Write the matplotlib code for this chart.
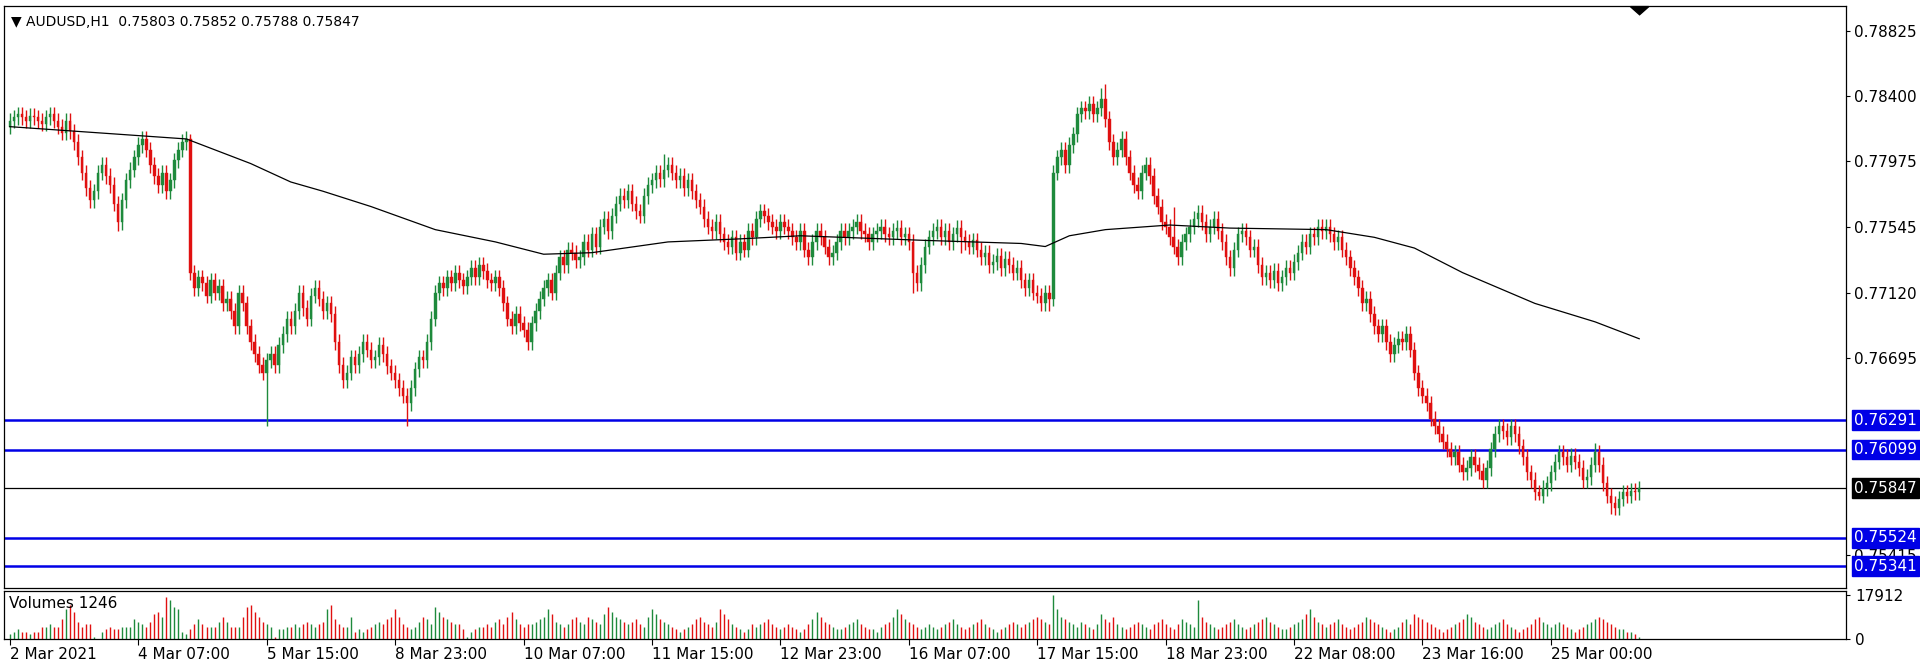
import matplotlib
matplotlib.use("Agg")
import matplotlib.pyplot as plt
from matplotlib.patches import Polygon

closes = [
0.7824,0.7826,0.7828,0.7826,0.7824,0.7827,0.7826,0.7824,0.7822,0.7826,0.7828,0.7824,0.7820,0.7816,0.7824,0.7817,
0.7810,0.7800,0.7790,0.7780,0.7772,0.7778,0.7790,0.7795,0.7788,0.7782,0.7770,0.7758,0.7772,0.7785,0.7792,0.7800,
0.7808,0.7812,0.7805,0.7795,0.7788,0.7782,0.7790,0.7778,0.7785,0.7798,0.7805,0.7810,0.7812,0.7725,0.7715,0.7722,
0.7718,0.7710,0.7720,0.7712,0.7716,0.7705,0.7708,0.7700,0.7690,0.7712,0.7705,0.7690,0.7680,0.7672,0.7665,0.7660,
0.7668,0.7672,0.7665,0.7678,0.7685,0.7695,0.7690,0.7700,0.7712,0.7702,0.7695,0.7710,0.7715,0.7708,0.7700,0.7705,
0.7698,0.7680,0.7665,0.7655,0.7660,0.7670,0.7665,0.7672,0.7680,0.7675,0.7668,0.7670,0.7678,0.7672,0.7664,0.7660,
0.7655,0.7650,0.7645,0.7640,0.7650,0.7662,0.7670,0.7668,0.7680,0.7695,0.7712,0.7718,0.7715,0.7722,0.7718,0.7725,
0.7720,0.7716,0.7722,0.7728,0.7722,0.7730,0.7726,0.7720,0.7718,0.7722,0.7715,0.7705,0.7695,0.7690,0.7698,0.7692,
0.7688,0.7680,0.7692,0.7700,0.7708,0.7715,0.7720,0.7712,0.7725,0.7735,0.7730,0.7740,0.7738,0.7733,0.7735,0.7745,
0.7740,0.7750,0.7742,0.7755,0.7760,0.7752,0.7762,0.7770,0.7775,0.7772,0.7778,0.7770,0.7765,0.7762,0.7775,0.7782,
0.7785,0.7790,0.7786,0.7792,0.7795,0.7790,0.7785,0.7788,0.7780,0.7785,0.7778,0.7772,0.7768,0.7760,0.7755,0.7752,
0.7758,0.7750,0.7745,0.7742,0.7748,0.7738,0.7745,0.7740,0.7752,0.7748,0.7760,0.7765,0.7762,0.7758,0.7755,0.7752,
0.7758,0.7755,0.7752,0.7748,0.7745,0.7752,0.7740,0.7735,0.7745,0.7752,0.7748,0.7742,0.7735,0.7738,0.7745,0.7752,
0.7748,0.7752,0.7755,0.7758,0.7752,0.7750,0.7745,0.7750,0.7752,0.7755,0.7750,0.7748,0.7752,0.7754,0.7748,0.7750,
0.7745,0.7725,0.7718,0.7730,0.7742,0.7748,0.7752,0.7755,0.7748,0.7752,0.7745,0.7750,0.7754,0.7748,0.7745,0.7742,
0.7746,0.7740,0.7735,0.7738,0.7730,0.7732,0.7736,0.7728,0.7734,0.7730,0.7725,0.7728,0.7720,0.7715,0.7720,0.7712,
0.7710,0.7705,0.7712,0.7708,0.7790,0.7800,0.7805,0.7795,0.7808,0.7815,0.7828,0.7832,0.7830,0.7835,0.7828,0.7832,
0.7838,0.7825,0.7810,0.7800,0.7805,0.7812,0.7800,0.7790,0.7782,0.7778,0.7790,0.7795,0.7788,0.7775,0.7768,0.7758,
0.7755,0.7748,0.7742,0.7735,0.7745,0.7750,0.7755,0.7760,0.7764,0.7758,0.7750,0.7755,0.7760,0.7752,0.7745,0.7735,
0.7728,0.7740,0.7750,0.7752,0.7748,0.7740,0.7742,0.7730,0.7722,0.7725,0.7720,0.7726,0.7718,0.7722,0.7728,0.7725,
0.7732,0.7738,0.7745,0.7742,0.7750,0.7748,0.7755,0.7752,0.7755,0.7750,0.7745,0.7748,0.7740,0.7735,0.7728,0.7722,
0.7715,0.7705,0.7708,0.7698,0.7690,0.7685,0.7690,0.7680,0.7672,0.7678,0.7682,0.7680,0.7685,0.7675,0.7660,0.7650,
0.7645,0.7640,0.7630,0.7625,0.7620,0.7615,0.7610,0.7605,0.7608,0.7600,0.7595,0.7598,0.7605,0.7600,0.7596,0.7590,
0.7598,0.7610,0.7620,0.7625,0.7622,0.7618,0.7625,0.7620,0.7612,0.7605,0.7595,0.7590,0.7582,0.7580,0.7585,0.7588,
0.7595,0.7602,0.7608,0.7605,0.7600,0.7606,0.7602,0.7598,0.7590,0.7592,0.7600,0.7608,0.7600,0.7588,0.7580,0.7575,
0.7572,0.7578,0.7582,0.7580,0.7583,0.7582,0.75847]
first_open = 0.7820

# notable wick extremes (bar index -> price)
special_lows = {64: 0.7625, 99: 0.7625, 27: 0.7752, 225: 0.7712, 259: 0.7700, 399: 0.7568, 381: 0.7577, 237: 0.7738}
special_highs = {273: 0.7848, 272: 0.7845, 163: 0.7802, 290: 0.7768, 372: 0.7630, 395: 0.7614, 45: 0.7815}

volumes_k = [
2,3,4,3,3,2,3,3,5,5,6,5,5,8,12,14,
11,7,5,6,6,1,0,3,4,5,4,4,5,5,5,8,
7,6,5,7,10,11,9,17,16,13,12,3,2,4,6,8,
6,5,5,5,7,9,7,5,5,5,9,13,14,11,9,7,
6,5,1,4,4,5,5,6,5,6,7,6,5,6,7,12,
14,8,6,5,5,9,3,4,3,4,5,6,7,6,8,9,
12,9,6,5,4,5,7,9,8,6,13,11,9,8,7,6,
6,4,1,3,4,5,5,6,5,7,8,6,9,11,8,6,
5,6,6,7,8,9,12,10,7,6,5,6,8,9,7,6,
9,8,7,6,10,13,11,9,8,7,6,7,8,6,5,9,
12,10,8,7,6,5,4,3,4,5,6,8,9,7,6,5,
7,12,10,8,6,5,4,3,4,6,5,6,7,8,6,5,
4,5,6,5,4,3,4,6,8,11,9,7,6,5,4,4,
5,6,7,8,6,5,4,4,3,5,6,7,9,12,10,8,
7,6,5,4,5,6,5,4,5,6,7,8,6,5,4,5,
6,7,8,6,5,4,3,4,5,6,7,6,5,6,7,8,
9,8,7,6,18,12,9,8,7,6,5,7,6,5,4,6,
10,8,7,9,6,5,4,5,6,7,6,5,4,6,7,8,
6,5,4,6,8,7,6,5,16,9,7,6,5,4,5,6,
7,8,6,5,4,5,6,7,8,9,7,6,5,4,4,5,
6,7,8,10,12,9,7,6,5,6,7,8,6,5,4,5,
6,7,9,8,7,6,5,4,3,4,5,7,8,6,10,9,
8,7,6,5,4,3,4,5,6,7,8,10,9,7,6,5,
4,5,6,7,8,6,5,4,3,4,5,6,8,9,7,6,
5,6,7,6,5,4,3,4,5,6,7,8,9,8,7,6,
5,4,4,3,3,2,1]

ma_bars = [0, 44, 60, 70, 78, 90, 106, 121, 133, 145, 164, 182, 197, 228, 252, 258, 264, 273, 289, 304, 328, 340, 350, 362, 380, 395, 406]
ma_vals = [0.7820, 0.7812, 0.7796, 0.7784, 0.7778, 0.7768, 0.7753, 0.7745, 0.7737, 0.7738, 0.7745, 0.7747, 0.7749,
           0.7746, 0.7744, 0.7742, 0.7749, 0.7753, 0.7756, 0.7754, 0.7753, 0.7748, 0.7741, 0.7725, 0.7705, 0.7693, 0.7682]

blue_levels = [0.76291, 0.76099, 0.75524, 0.75341]
last_price = 0.75847
price_ticks = [0.78825, 0.78400, 0.77975, 0.77545, 0.77120, 0.76695, 0.75415]
time_labels = ["2 Mar 2021", "4 Mar 07:00", "5 Mar 15:00", "8 Mar 23:00", "10 Mar 07:00",
               "11 Mar 15:00", "12 Mar 23:00", "16 Mar 07:00", "17 Mar 15:00", "18 Mar 23:00",
               "22 Mar 08:00", "23 Mar 16:00", "25 Mar 00:00"]
title = "AUDUSD,H1  0.75803 0.75852 0.75788 0.75847"
vol_title = "Volumes 1246"

UP = "#1e8a3c"
DN = "#e01010"
BLUE = "#0000e6"

n = len(closes)
opens = [first_open] + closes[:-1]
wick = 0.0005

fig = plt.figure(figsize=(19.2, 6.61), dpi=100)
ax = fig.add_axes([0.002, 0.1104, 0.9594, 0.8805])
av = fig.add_axes([0.002, 0.0333, 0.9594, 0.0726])
XL = (-1.5, 457.5)

for i in range(n):
    o, c = opens[i], closes[i]
    hi = special_highs.get(i, max(o, c) + wick)
    lo = special_lows.get(i, min(o, c) - wick)
    col = UP if c >= o else DN
    ax.plot([i, i], [lo, hi], color=col, lw=1.0, solid_capstyle="butt", zorder=2)
    ax.bar(i, max(abs(c - o), 0.00004), bottom=min(o, c), width=0.62, color=col, edgecolor=col, lw=0.3, zorder=3)

ax.plot(ma_bars, ma_vals, color="black", lw=0.9, zorder=4)
for lv in blue_levels:
    ax.axhline(lv, color=BLUE, lw=1.8, zorder=1)
ax.axhline(last_price, color="black", lw=0.9, zorder=1)

ax.set_xlim(*XL)
ax.set_ylim(0.75198, 0.78985)
ax.set_xticks([])
ax.yaxis.tick_right()
ax.set_yticks(price_ticks)
ax.set_yticklabels([f"{t:.5f}" for t in price_ticks])
ax.tick_params(axis="y", length=3, labelsize=11, pad=3)
for s in ax.spines.values():
    s.set_linewidth(0.9)

def box(axis, y, text, fc):
    axis.annotate(text, xy=(1.0, y), xycoords=("axes fraction", "data"), xytext=(6, 0),
                  textcoords="offset points", va="center", ha="left", fontsize=11, color="white",
                  bbox=dict(boxstyle="square,pad=0.15", fc=fc, ec=fc), zorder=10, annotation_clip=False)

for lv in blue_levels:
    box(ax, lv, f"{lv:.5f}", BLUE)
box(ax, last_price, f"{last_price:.5f}", "black")

ax.text(0.004, 0.985, "\u25BC " + title, transform=ax.transAxes, fontsize=10, va="top", ha="left")
ax.add_patch(Polygon([[0.883, 0.999], [0.893, 0.999], [0.888, 0.985]], closed=True,
                     transform=ax.transAxes, color="black", clip_on=False))

nv = min(n, len(volumes_k))
for i in range(nv):
    col = UP if closes[i] >= opens[i] else DN
    av.plot([i, i], [0, volumes_k[i] * 1000], color=col, lw=1.0, solid_capstyle="butt")
av.set_xlim(*XL)
av.set_ylim(0, 19500)
av.yaxis.tick_right()
av.set_yticks([0, 17912])
av.set_yticklabels(["0", "17912"])
av.tick_params(axis="y", length=3, labelsize=11)
av.text(0.003, 0.9, vol_title, transform=av.transAxes, fontsize=11, va="top", ha="left")
av.set_xticks([i * 32 for i in range(len(time_labels))])
av.set_xticklabels(time_labels, ha="left")
av.tick_params(axis="x", length=4, labelsize=11, pad=2)
for s in av.spines.values():
    s.set_linewidth(0.9)

fig.savefig("out.png", dpi=100)
